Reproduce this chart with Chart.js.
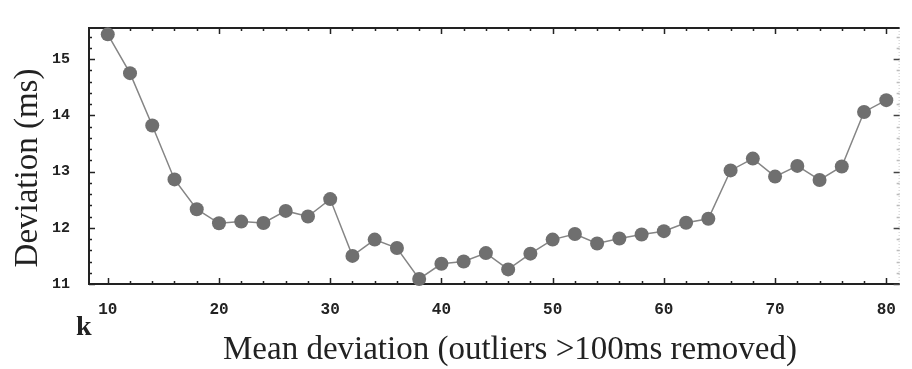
<!DOCTYPE html>
<html>
<head>
<meta charset="utf-8">
<script src="https://cdn.jsdelivr.net/npm/chart.js@4/dist/chart.umd.min.js"></script>
<style>
  html, body { margin: 0; padding: 0; background: #fff; }
  #c { display: block; }
</style>
</head>
<body>
<canvas id="c" width="912" height="369"></canvas>
<script>
// ---- data ----
const kValues = [10,12,14,16,18,20,22,24,26,28,30,32,34,36,38,40,42,44,46,48,50,52,54,56,58,60,62,64,66,68,70,72,74,76,78,80];
const deviation = [15.44,14.75,13.82,12.86,12.33,12.08,12.11,12.085,12.30,12.20,12.51,11.50,11.79,11.64,11.09,11.36,11.40,11.55,11.26,11.54,11.79,11.89,11.72,11.81,11.88,11.94,12.09,12.16,13.02,13.23,12.91,13.10,12.85,13.09,14.06,14.27];
const xTickLabels = [10,20,30,40,50,60,70,80];
const yTickLabels = [11,12,13,14,15];
const yTitle = 'Deviation (ms)';
const xTitle = 'Mean deviation (outliers >100ms removed)';
const cornerLabel = 'k';

const points = kValues.map((k, i) => ({ x: k, y: deviation[i] }));

const framePlugin = {
  id: 'frame',
  beforeDatasetsDraw(chart) {
    const { ctx, chartArea: a, scales: { x, y } } = chart;
    ctx.save();
    // right border (light, dotted)
    ctx.strokeStyle = '#c8c8c8';
    ctx.lineWidth = 1;
    ctx.setLineDash([1, 2]);
    ctx.beginPath();
    ctx.moveTo(a.right - 0.5, a.top);
    ctx.lineTo(a.right - 0.5, a.bottom);
    ctx.stroke();
    ctx.setLineDash([]);
    // left, top, bottom borders
    ctx.strokeStyle = '#222';
    ctx.lineWidth = 2;
    ctx.beginPath();
    ctx.moveTo(a.right, a.top);
    ctx.lineTo(a.left, a.top);
    ctx.lineTo(a.left, a.bottom);
    ctx.lineTo(a.right, a.bottom);
    ctx.stroke();
    // x ticks (every 2, major every 10)
    ctx.lineWidth = 1.5;
    for (let v = 10; v <= 80; v += 2) {
      const px = Math.round(x.getPixelForValue(v)) + 0.5;
      const len = (v % 10 === 0) ? 6 : 3;
      ctx.beginPath();
      ctx.moveTo(px, a.bottom); ctx.lineTo(px, a.bottom - len);
      ctx.moveTo(px, a.top); ctx.lineTo(px, a.top + len);
      ctx.stroke();
    }
    // y ticks (every 0.2, major every 1)
    for (let i = 0; i <= 22; i++) {
      const v = 11 + i * 0.2;
      const py = Math.round(y.getPixelForValue(v)) + 0.5;
      const major = i % 5 === 0;
      const len = major ? 6 : 3;
      ctx.strokeStyle = '#222';
      ctx.beginPath();
      ctx.moveTo(a.left, py); ctx.lineTo(a.left + len, py);
      ctx.stroke();
      ctx.strokeStyle = major ? '#444' : '#bbb';
      ctx.beginPath();
      ctx.moveTo(a.right, py); ctx.lineTo(a.right - len, py);
      ctx.stroke();
    }
    // titles
    ctx.fillStyle = '#222';
    ctx.font = '33px "Liberation Serif", serif';
    ctx.textAlign = 'center';
    ctx.textBaseline = 'alphabetic';
    ctx.fillText(xTitle, 510, 359);
    ctx.save();
    ctx.translate(37, 168);
    ctx.rotate(-Math.PI / 2);
    ctx.fillText(yTitle, 0, 0);
    ctx.restore();
    ctx.font = 'bold 28px "Liberation Serif", serif';
    ctx.textAlign = 'left';
    ctx.fillText(cornerLabel, 76, 335);
    ctx.restore();
  }
};

new Chart(document.getElementById('c'), {
  type: 'line',
  data: {
    datasets: [{
      data: points,
      borderColor: '#858585',
      borderWidth: 1.5,
      backgroundColor: '#6f6f6f',
      pointBackgroundColor: '#6f6f6f',
      pointBorderWidth: 0,
      pointRadius: 7,
      pointStyle: 'circle',
      tension: 0,
      fill: false,
      clip: false
    }]
  },
  options: {
    responsive: false,
    animation: false,
    devicePixelRatio: 1,
    layout: { padding: { left: 0, right: 2, top: 10, bottom: 0 } },
    plugins: { legend: { display: false }, tooltip: { enabled: false } },
    scales: {
      x: {
        type: 'linear',
        position: 'bottom',
        min: 8.313,
        max: 81.2,
        grid: { display: false, drawTicks: false },
        border: { display: false },
        afterBuildTicks: s => { s.ticks = xTickLabels.map(v => ({ value: v })); },
        afterFit: s => { s.height = 85; },
        ticks: {
          autoSkip: false,
          maxRotation: 0,
          padding: 16,
          color: '#222',
          font: { family: '"Liberation Mono", monospace', size: 16, weight: 'bold' }
        }
      },
      y: {
        type: 'linear',
        position: 'left',
        min: 11,
        max: 15.553,
        grid: { display: false, drawTicks: false },
        border: { display: false },
        afterBuildTicks: s => { s.ticks = yTickLabels.map(v => ({ value: v })); },
        afterFit: s => { s.width = 89; },
        ticks: {
          padding: 19,
          color: '#222',
          font: { family: '"Liberation Mono", monospace', size: 15, weight: 'bold' }
        }
      }
    }
  },
  plugins: [framePlugin]
});
</script>
</body>
</html>
